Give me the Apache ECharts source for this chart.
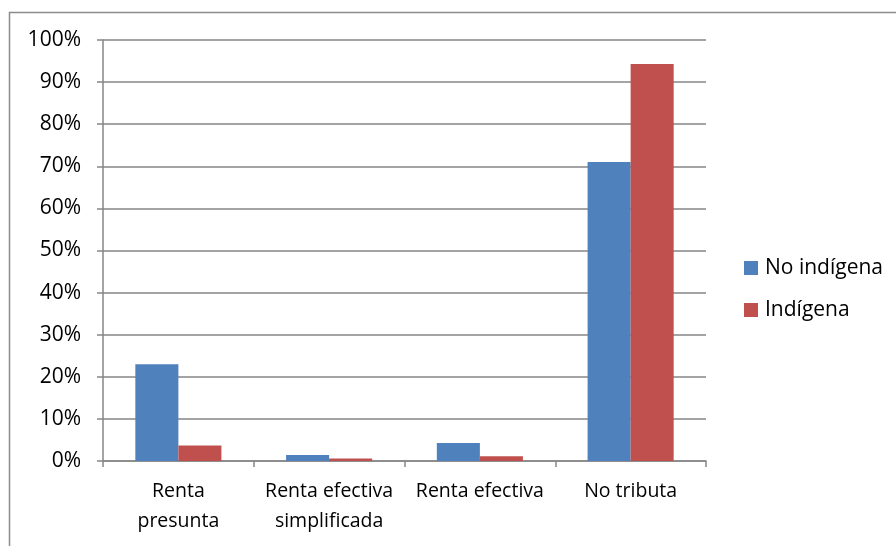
<!DOCTYPE html>
<html>
<head>
<meta charset="utf-8">
<script src="https://cdn.jsdelivr.net/npm/echarts@6/dist/echarts.min.js"></script>
<style>
html,body{margin:0;padding:0;background:#fff;}
#chart{width:896px;height:546px;}
</style>
</head>
<body>
<div id="chart"></div>
<script>
const categories = ['Renta\npresunta', 'Renta efectiva\nsimplificada', 'Renta efectiva', 'No tributa'];
const seriesNames = ['No indígena', 'Indígena'];
const noIndigena = [23.0, 1.4, 4.3, 71.0];
const indigena = [3.7, 0.6, 1.1, 94.3];
const yTicks = {min: 0, max: 100, interval: 10};

const FONT = 'Open Sans';
const chart = echarts.init(document.getElementById('chart'), null, {renderer: 'canvas'});
chart.setOption({
  animation: false,
  backgroundColor: '#ffffff',
  textStyle: {fontFamily: FONT},
  graphic: [{
    type: 'rect',
    shape: {x: 9.5, y: 12.5, width: 1000, height: 1000},
    style: {fill: 'none', stroke: '#8c8c8c', lineWidth: 1.5},
    silent: true, z: -10
  }],
  grid: {left: 103, right: 190, top: 40, bottom: 85, containLabel: false},
  legend: {
    orient: 'vertical',
    left: 744, top: 257, padding: 0,
    itemWidth: 14, itemHeight: 14, itemGap: 20,
    icon: 'rect',
    textStyle: {fontFamily: FONT, fontSize: 21, color: '#000', lineHeight: 22, padding: [0, 0, 0, 2]},
    data: seriesNames
  },
  xAxis: {
    type: 'category',
    data: categories,
    axisLine: {lineStyle: {color: '#868686', width: 1.5}},
    axisTick: {show: true, length: 6, lineStyle: {color: '#868686', width: 1.5}},
    axisLabel: {color: '#000', fontFamily: FONT, fontSize: 19.5, lineHeight: 30, margin: 15, interval: 0}
  },
  yAxis: {
    type: 'value',
    min: yTicks.min, max: yTicks.max, interval: yTicks.interval,
    axisLine: {show: true, lineStyle: {color: '#868686', width: 1.5}},
    axisTick: {show: true, length: 6, lineStyle: {color: '#868686', width: 1.5}},
    splitLine: {lineStyle: {color: '#868686', width: 1.5}},
    axisLabel: {color: '#000', fontFamily: FONT, fontSize: 21, margin: 22, formatter: '{value}%'}
  },
  series: [
    {name: seriesNames[0], type: 'bar', data: noIndigena, barGap: '0%', barCategoryGap: '42.9%',
     itemStyle: {color: '#4F81BD'}},
    {name: seriesNames[1], type: 'bar', data: indigena, barGap: '0%', barCategoryGap: '42.9%',
     itemStyle: {color: '#C0504D'}}
  ]
});
</script>
</body>
</html>
